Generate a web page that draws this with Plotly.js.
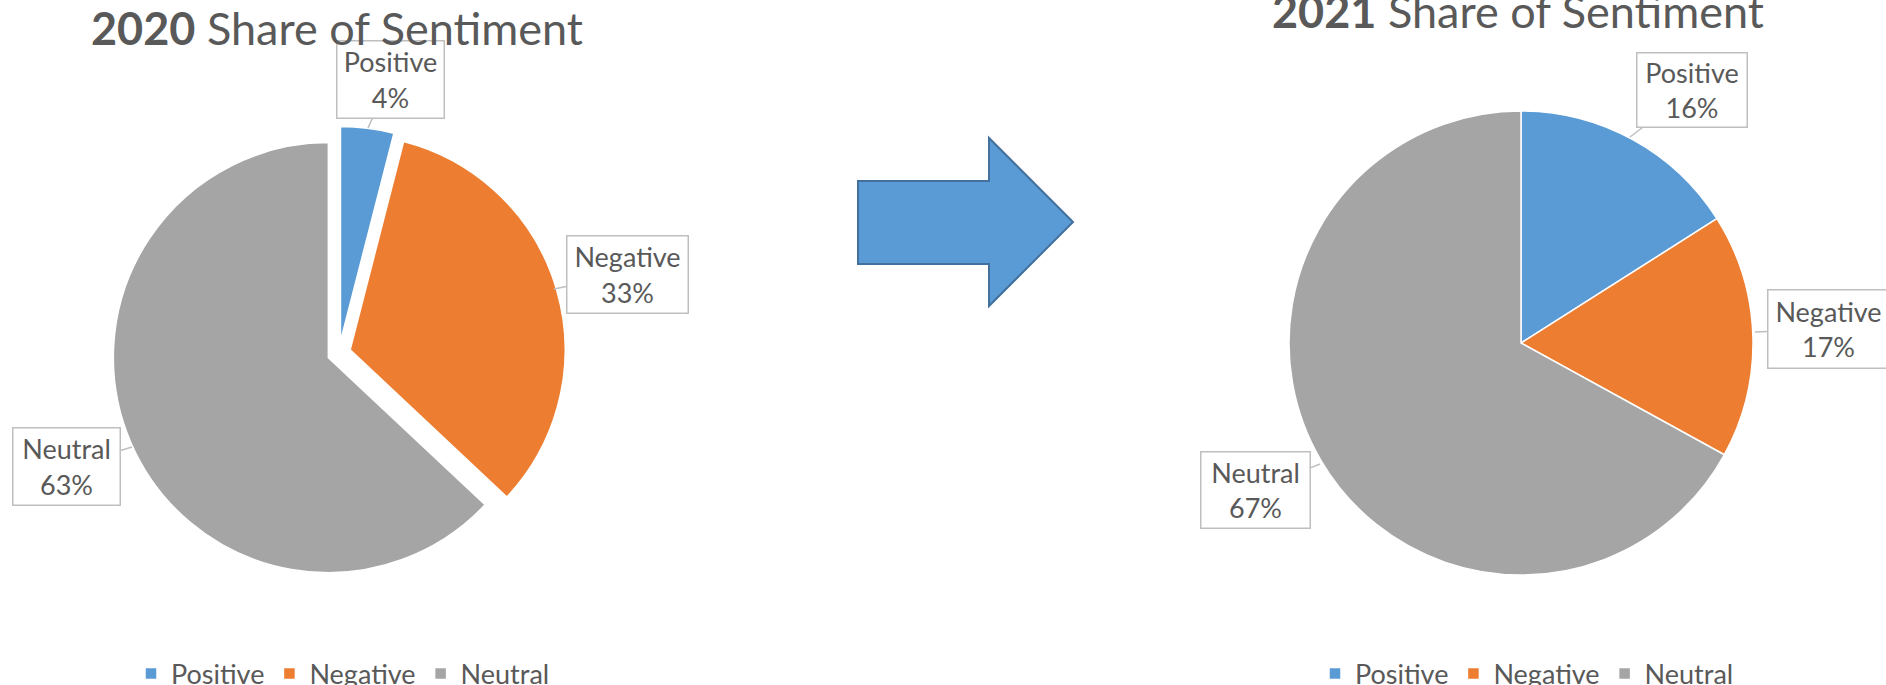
<!DOCTYPE html>
<html>
<head>
<meta charset="utf-8">
<script src="https://cdn.plot.ly/plotly-3.0.1.min.js"></script>
<style>
  html, body { margin: 0; padding: 0; background: #ffffff; }
  #chart { width: 1886px; height: 685px; }
</style>
</head>
<body>
<div id="chart"></div>
<script>
// Sentiment categories and yearly shares (percent)
const categories = ['Positive', 'Negative', 'Neutral'];
const share2020 = [4, 33, 63];
const share2021 = [16, 17, 67];
const sliceColors = ['#5b9bd5', '#ed7d31', '#a5a5a5'];
const yearLabels = ['2020', '2021'];

const W = 1886, H = 685;
const FONT = 'Lato, "Open Sans", sans-serif';
const TEXT = '#595959';

// pixel -> paper helpers (margins are zero, so paper spans the whole canvas)
const px = v => v / W;
const py = v => 1 - v / H;

// square domain centred on (cx, cy) with half-size h, in pixels
function domainAround(cx, cy, h) {
  return { x: [px(cx - h), px(cx + h)], y: [py(cy + h), py(cy - h)] };
}

const explode = 0.054;

const pie2020 = {
  type: 'pie',
  name: yearLabels[0],
  labels: categories,
  values: share2020,
  sort: false,
  direction: 'clockwise',
  rotation: 0,
  pull: categories.map(() => explode),
  marker: { colors: sliceColors, line: { color: '#ffffff', width: 1.5 } },
  textinfo: 'none',
  hoverinfo: 'label+percent',
  domain: domainAround(339, 353, 215 * (1 + explode)),
  legend: 'legend',
  legendgroup: 'g2020'
};

const pie2021 = {
  type: 'pie',
  name: yearLabels[1],
  labels: categories,
  values: share2021,
  sort: false,
  direction: 'clockwise',
  rotation: 0,
  marker: { colors: sliceColors, line: { color: '#ffffff', width: 1.5 } },
  textinfo: 'none',
  hoverinfo: 'label+percent',
  domain: domainAround(1521, 343, 232),
  legend: 'legend2',
  legendgroup: 'g2021'
};

// callout label: box centre (bx, by), size (bw, bh), pointer tip (tx, ty) in pixels
function callout(label, value, bx, by, bw, bh, tx, ty) {
  return {
    xref: 'paper', yref: 'paper',
    x: px(tx), y: py(ty),
    ax: bx - tx, ay: by - ty,
    axref: 'pixel', ayref: 'pixel',
    text: label + '<br>' + value + '%',
    showarrow: true, arrowhead: 0, arrowwidth: 1.5, arrowcolor: '#bfbfbf',
    width: bw, height: bh,
    bgcolor: '#ffffff', bordercolor: '#bfbfbf', borderwidth: 1.5, borderpad: 0,
    font: { family: FONT, size: 27, color: TEXT },
    align: 'center', valign: 'middle'
  };
}

const boxes2020 = [
  [390, 79, 106, 76, 368, 128],
  [627, 274, 120, 76, 554, 289],
  [66, 467, 106, 76, 132, 447]
];
const boxes2021 = [
  [1692, 90, 109, 73, 1630, 137],
  [1828, 329, 120, 77, 1755, 332],
  [1255, 490, 108, 75, 1320, 464]
];

const annotations = [];
categories.forEach((c, i) => {
  annotations.push(callout(c, share2020[i], ...boxes2020[i]));
});
categories.forEach((c, i) => {
  annotations.push(callout(c, share2021[i], ...boxes2021[i]));
});

// chart titles
function title(year, cx, cy) {
  return {
    xref: 'paper', yref: 'paper', x: px(cx), y: py(cy),
    xanchor: 'center', yanchor: 'middle', showarrow: false,
    text: '<b>' + year + '</b> Share of Sentiment',
    font: { family: FONT, size: 45, color: TEXT }
  };
}
annotations.push(title(yearLabels[0], 337, 28));
annotations.push(title(yearLabels[1], 1518, 11));

// block arrow between the two pies
const arrowPts = [[858, 181], [989, 181], [989, 138], [1073, 222], [989, 306], [989, 264], [858, 264]];
const arrowPath = 'M' + arrowPts.map(p => px(p[0]) + ',' + py(p[1])).join('L') + 'Z';

const legendBase = {
  orientation: 'h',
  traceorder: 'normal',
  xanchor: 'center', yanchor: 'middle',
  font: { family: FONT, size: 27, color: TEXT },
  bgcolor: 'rgba(0,0,0,0)',
  itemclick: false, itemdoubleclick: false
};

const layout = {
  width: W, height: H,
  margin: { l: 0, r: 0, t: 0, b: 0, autoexpand: false },
  paper_bgcolor: '#ffffff',
  plot_bgcolor: '#ffffff',
  showlegend: true,
  legend: Object.assign({}, legendBase, { x: px(343), y: py(674) }),
  legend2: Object.assign({}, legendBase, { x: px(1527), y: py(674) }),
  annotations: annotations,
  shapes: [{
    type: 'path', xref: 'paper', yref: 'paper', path: arrowPath,
    fillcolor: '#5b9bd5', line: { color: '#41719c', width: 2 }
  }]
};

Plotly.newPlot('chart', [pie2020, pie2021], layout, { displayModeBar: false, staticPlot: true });
</script>
</body>
</html>
